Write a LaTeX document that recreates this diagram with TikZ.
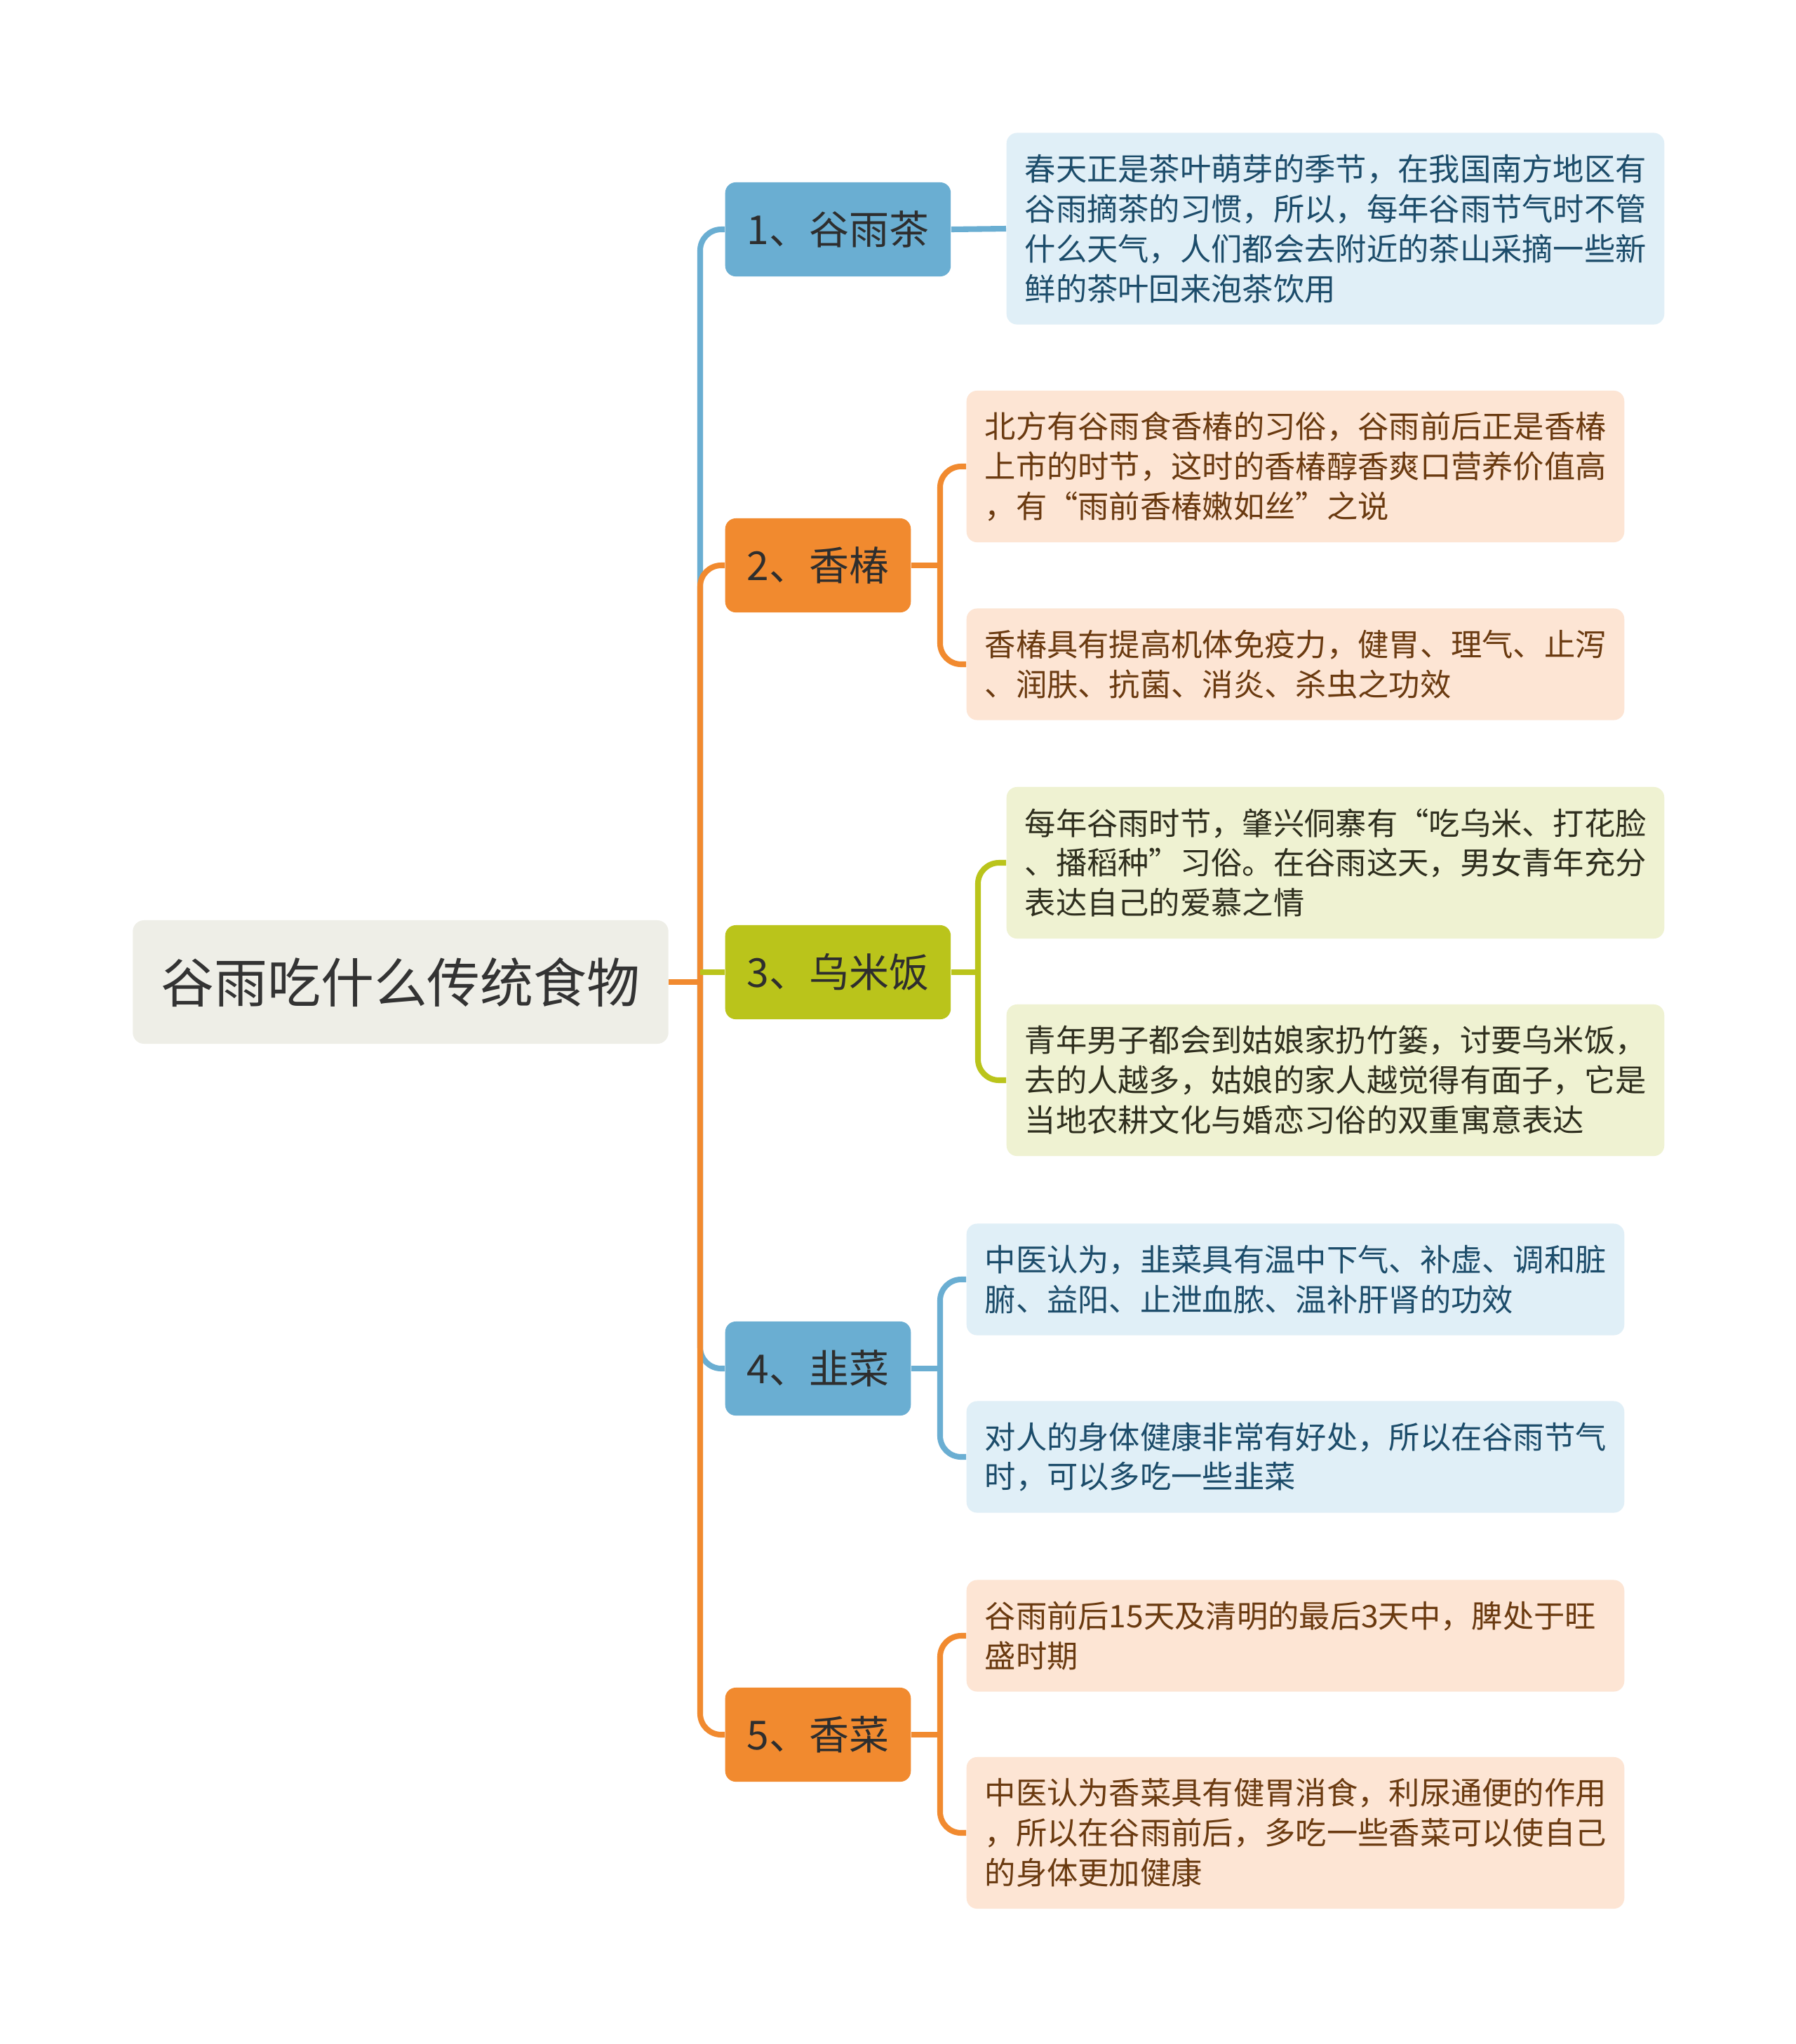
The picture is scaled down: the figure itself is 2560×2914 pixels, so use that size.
\documentclass[tikz,border=0pt]{standalone}
\usepackage{fontspec}
\setmainfont{Noto Sans CJK SC}
\usetikzlibrary{positioning}
\definecolor{tblue}{HTML}{6AAED2}
\definecolor{torange}{HTML}{F18A2F}
\definecolor{tgreen}{HTML}{BAC41B}
\definecolor{rootfill}{HTML}{EEEEE7}
\definecolor{nblue}{HTML}{E0EFF7}
\definecolor{norange}{HTML}{FDE5D4}
\definecolor{ngreen}{HTML}{EFF2D2}
\definecolor{nbluetext}{HTML}{1C4C6A}
\definecolor{norangetext}{HTML}{6A3A10}
\definecolor{ngreentext}{HTML}{2E2E1E}

\begin{document}
\begin{tikzpicture}[
    x=0.01cm, y=-0.01cm,
    root/.style={rectangle, rounded corners=0.16cm, fill=rootfill, text=black!80,
                 minimum width=7.63cm, minimum height=1.76cm,
                 font=\fontsize{21.6}{26}\selectfont},
    topic/.style={rectangle, rounded corners=0.15cm, anchor=west, text=black!82,
                  minimum height=1.34cm, inner xsep=0.31cm,
                  font=\fontsize{16.2}{20}\selectfont},
    note/.style={rectangle, rounded corners=0.15cm, anchor=west, align=left,
                 text width=8.85cm, inner xsep=0.26cm,
                 font=\fontsize{12.6}{16.2}\selectfont},
    link/.style={line width=2.3pt},
    fork/.style={line width=2.3pt, rounded corners=0.3cm}
  ]
  \useasboundingbox[fill=white] (0,0) rectangle (2560,2914);

  \node[root] (root) at (571,1400) {谷雨吃什么传统食物};
  \coordinate (trunk) at (998,1400);

  \node[topic, fill=tblue] (t1) at (1033,327) {1、谷雨茶};
  \node[topic, fill=torange] (t2) at (1033,806) {2、香椿};
  \node[topic, fill=tgreen] (t3) at (1033,1386) {3、乌米饭};
  \node[topic, fill=tblue] (t4) at (1033,1951) {4、韭菜};
  \node[topic, fill=torange] (t5) at (1033,2473) {5、香菜};

  \node[note, fill=nblue, text=nbluetext, minimum height=2.73cm] (d1) at (1434,326)
    {春天正是茶叶萌芽的季节，在我国南方地区有\\谷雨摘茶的习惯，所以，每年谷雨节气时不管\\什么天气，人们都会去附近的茶山采摘一些新\\鲜的茶叶回来泡茶饮用};
  \node[note, fill=norange, text=norangetext, minimum height=2.16cm] (d2a) at (1377,665)
    {北方有谷雨食香椿的习俗，谷雨前后正是香椿\\上市的时节，这时的香椿醇香爽口营养价值高\\，有“雨前香椿嫩如丝”之说};
  \node[note, fill=norange, text=norangetext, minimum height=1.59cm] (d2b) at (1377,947)
    {香椿具有提高机体免疫力，健胃、理气、止泻\\、润肤、抗菌、消炎、杀虫之功效};
  \node[note, fill=ngreen, text=ngreentext, minimum height=2.16cm] (d3a) at (1434,1230)
    {每年谷雨时节，肇兴侗寨有“吃乌米、打花脸\\、播稻种”习俗。在谷雨这天，男女青年充分\\表达自己的爱慕之情};
  \node[note, fill=ngreen, text=ngreentext, minimum height=2.16cm] (d3b) at (1434,1540)
    {青年男子都会到姑娘家扔竹篓，讨要乌米饭，\\去的人越多，姑娘的家人越觉得有面子，它是\\当地农耕文化与婚恋习俗的双重寓意表达};
  \node[note, fill=nblue, text=nbluetext, minimum height=1.59cm] (d4a) at (1377,1824)
    {中医认为，韭菜具有温中下气、补虚、调和脏\\腑、益阳、止泄血脓、温补肝肾的功效};
  \node[note, fill=nblue, text=nbluetext, minimum height=1.59cm] (d4b) at (1377,2077)
    {对人的身体健康非常有好处，所以在谷雨节气\\时，可以多吃一些韭菜};
  \node[note, fill=norange, text=norangetext, minimum height=1.59cm] (d5a) at (1377,2332)
    {谷雨前后15天及清明的最后3天中，脾处于旺\\盛时期};
  \node[note, fill=norange, text=norangetext, minimum height=2.16cm] (d5b) at (1377,2613)
    {中医认为香菜具有健胃消食，利尿通便的作用\\，所以在谷雨前后，多吃一些香菜可以使自己\\的身体更加健康};

  \coordinate[right=0.41cm of t2.east] (f2);
  \coordinate[right=0.38cm of t3.east] (f3);
  \coordinate[right=0.41cm of t4.east] (f4);
  \coordinate[right=0.41cm of t5.east] (f5);

  \draw[fork, tblue] (trunk) |- (t1.west);
  \draw[fork, tblue] (trunk) |- (t4.west);
  \draw[fork, torange] (trunk) |- (t2.west);
  \draw[fork, torange] (trunk) |- (t5.west);
  \draw[link, torange] (root.east) -- (trunk);
  \draw[link, tgreen] (trunk |- t3.west) -- (t3.west);

  \draw[link, tblue] (t1.east) -- (d1.west);
  \draw[link, torange] (t2.east) -- (f2);
  \draw[fork, torange] (f2) |- (d2a.west);
  \draw[fork, torange] (f2) |- (d2b.west);
  \draw[link, tgreen] (t3.east) -- (f3);
  \draw[fork, tgreen] (f3) |- (d3a.west);
  \draw[fork, tgreen] (f3) |- (d3b.west);
  \draw[link, tblue] (t4.east) -- (f4);
  \draw[fork, tblue] (f4) |- (d4a.west);
  \draw[fork, tblue] (f4) |- (d4b.west);
  \draw[link, torange] (t5.east) -- (f5);
  \draw[fork, torange] (f5) |- (d5a.west);
  \draw[fork, torange] (f5) |- (d5b.west);
\end{tikzpicture}
\end{document}
